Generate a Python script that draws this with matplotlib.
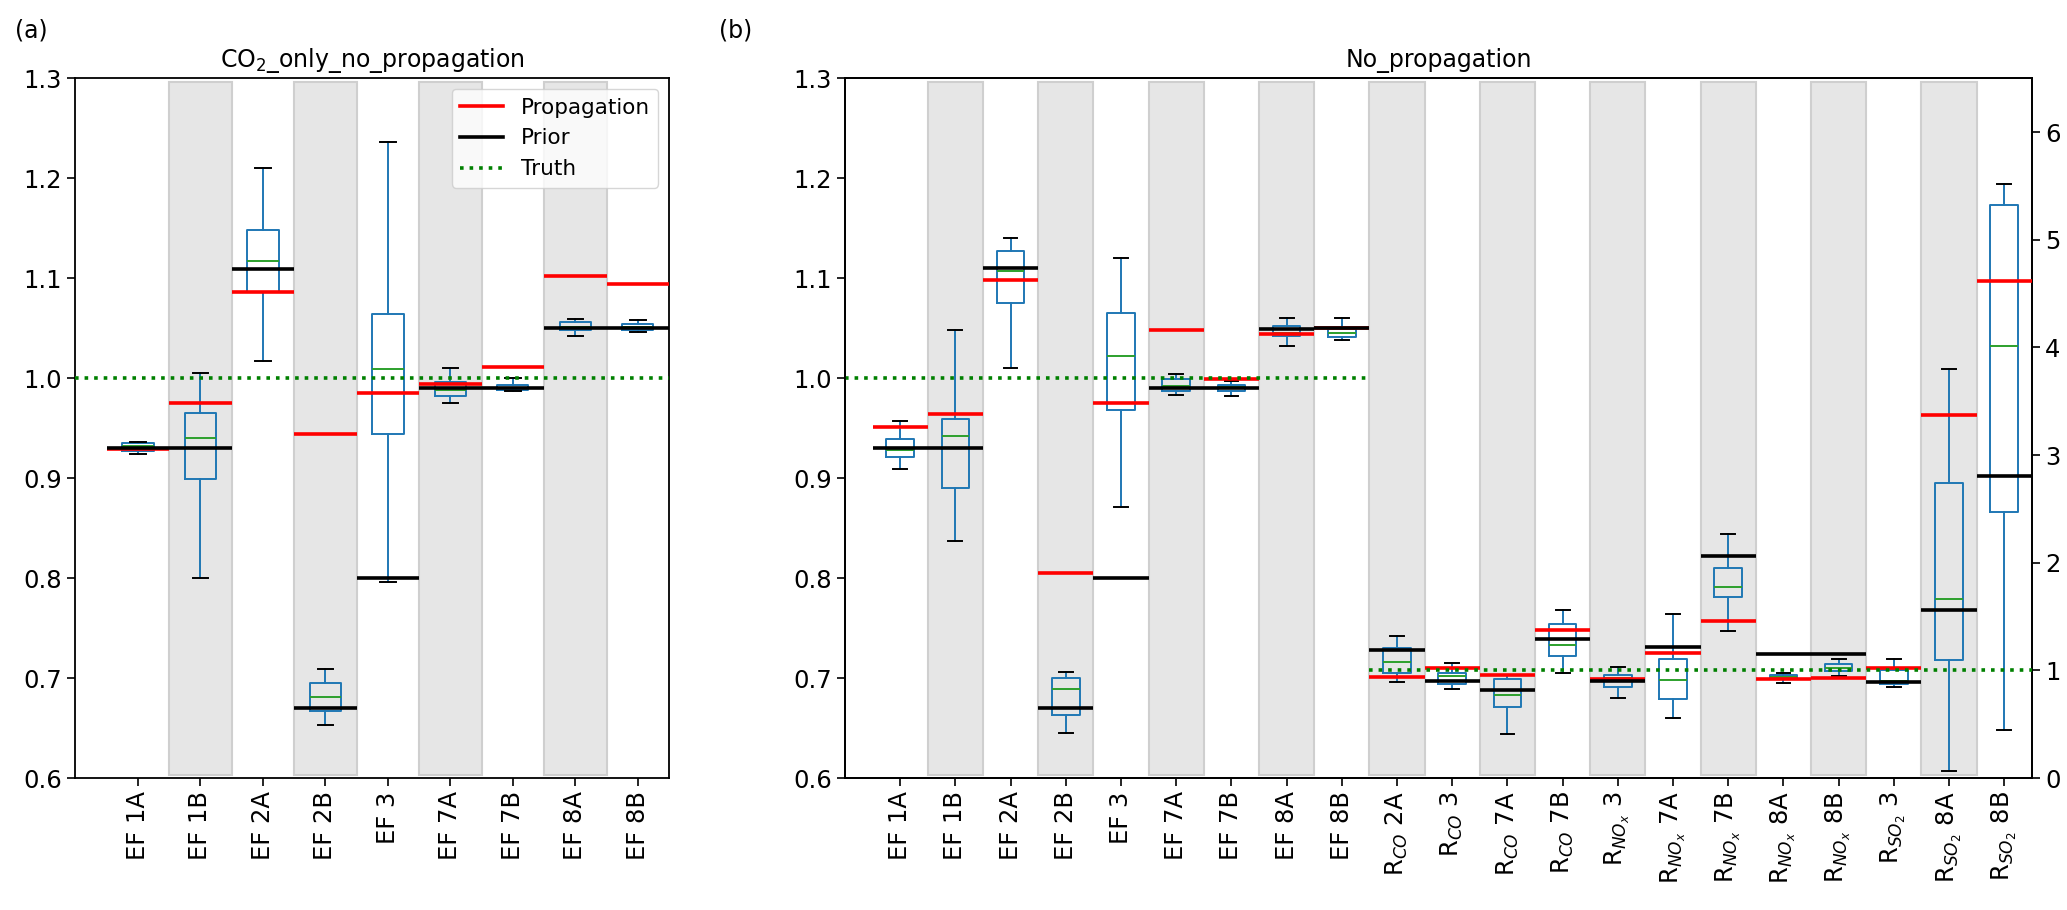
import matplotlib
matplotlib.use("Agg")
import matplotlib.pyplot as plt
from matplotlib.lines import Line2D

# ---------------- data ----------------
cats_a = ['EF 1A', 'EF 1B', 'EF 2A', 'EF 2B', 'EF 3', 'EF 7A', 'EF 7B', 'EF 8A', 'EF 8B']
a_whislo = [0.924, 0.800, 1.017, 0.653, 0.796, 0.975, 0.987, 1.042, 1.046]
a_q1 = [0.927, 0.899, 1.086, 0.667, 0.944, 0.982, 0.988, 1.048, 1.048]
a_med = [0.932, 0.940, 1.117, 0.681, 1.009, 0.988, 0.990, 1.051, 1.051]
a_q3 = [0.935, 0.965, 1.148, 0.695, 1.064, 0.996, 0.993, 1.056, 1.054]
a_whishi = [0.936, 1.005, 1.210, 0.709, 1.236, 1.010, 1.000, 1.059, 1.058]
a_prop = [0.929, 0.975, 1.086, 0.944, 0.985, 0.994, 1.011, 1.102, 1.094]
a_prior = [0.930, 0.930, 1.109, 0.670, 0.800, 0.990, 0.990, 1.050, 1.050]

cats_b_ef = ['EF 1A', 'EF 1B', 'EF 2A', 'EF 2B', 'EF 3', 'EF 7A', 'EF 7B', 'EF 8A', 'EF 8B']
b_whislo = [0.909, 0.837, 1.010, 0.645, 0.871, 0.983, 0.982, 1.032, 1.038]
b_q1 = [0.921, 0.890, 1.075, 0.663, 0.968, 0.987, 0.987, 1.042, 1.041]
b_med = [0.928, 0.942, 1.107, 0.689, 1.022, 0.992, 0.991, 1.045, 1.045]
b_q3 = [0.939, 0.959, 1.127, 0.700, 1.065, 0.999, 0.993, 1.052, 1.049]
b_whishi = [0.957, 1.048, 1.140, 0.706, 1.120, 1.004, 0.997, 1.060, 1.060]
b_prop = [0.951, 0.964, 1.098, 0.805, 0.975, 1.048, 0.999, 1.044, 1.050]
b_prior = [0.930, 0.930, 1.110, 0.670, 0.800, 0.990, 0.990, 1.049, 1.050]

cats_b_r = [r'R$_{CO}$ 2A', r'R$_{CO}$ 3', r'R$_{CO}$ 7A', r'R$_{CO}$ 7B',
            r'R$_{NO_x}$ 3', r'R$_{NO_x}$ 7A', r'R$_{NO_x}$ 7B', r'R$_{NO_x}$ 8A', r'R$_{NO_x}$ 8B',
            r'R$_{SO_2}$ 3', r'R$_{SO_2}$ 8A', r'R$_{SO_2}$ 8B']
r_whislo = [0.890, 0.830, 0.405, 0.972, 0.743, 0.560, 1.363, 0.886, 0.950, 0.848, 0.063, 0.450]
r_q1 = [0.975, 0.873, 0.664, 1.130, 0.848, 0.732, 1.683, 0.918, 0.990, 0.872, 1.100, 2.467]
r_med = [1.078, 0.951, 0.770, 1.232, 0.928, 0.912, 1.779, 0.938, 1.022, 0.904, 1.660, 4.010]
r_q3 = [1.204, 0.980, 0.917, 1.432, 0.956, 1.110, 1.955, 0.958, 1.062, 1.001, 2.744, 5.320]
r_whishi = [1.318, 1.068, 0.960, 1.557, 1.030, 1.522, 2.266, 0.975, 1.105, 1.110, 3.803, 5.517]
r_prop = [0.935, 1.025, 0.957, 1.372, 0.918, 1.161, 1.459, 0.922, 0.930, 1.022, 3.375, 4.616]
r_prior = [1.187, 0.899, 0.815, 1.290, 0.903, 1.215, 2.066, 1.150, 1.150, 0.896, 1.557, 2.805]

truth_ef = 1.0
truth_r = 1.0

# ---------------- style ----------------
FS_TICK = 17.5
FS_TITLE = 17
FS_LEG = 15.5
BOX_C = '#1f77b4'
MED_C = '#2ca02c'
BAND_FC = '#e6e6e6'
BAND_EC = '#cfcfcf'
LW_BOX = 1.4
LW_REF = 2.6

plt.rcParams['font.family'] = ['DejaVu Sans']
plt.rcParams['mathtext.fontset'] = 'dejavusans'


def stats_list(lo, q1, med, q3, hi):
    return [dict(whislo=a, q1=b, med=c, q3=d, whishi=e, fliers=[])
            for a, b, c, d, e in zip(lo, q1, med, q3, hi)]


def draw_boxes(ax, stats, positions):
    ax.bxp(stats, positions=positions, widths=0.5, showfliers=False,
           manage_ticks=False,
           boxprops=dict(color=BOX_C, lw=LW_BOX),
           whiskerprops=dict(color=BOX_C, lw=LW_BOX),
           capprops=dict(color='k', lw=LW_BOX),
           medianprops=dict(color=MED_C, lw=LW_BOX),
           zorder=3)


def draw_refs(ax, positions, prop, prior):
    for p, yv in zip(positions, prop):
        ax.hlines(yv, p - 0.5, p + 0.5, colors='red', lw=LW_REF, zorder=4)
    for p, yv in zip(positions, prior):
        ax.hlines(yv, p - 0.5, p + 0.5, colors='black', lw=LW_REF, zorder=5)


def draw_bands(ax, n):
    for i in range(2, n + 1, 2):
        ax.axvspan(i - 0.5, i + 0.5, ymin=0.005, ymax=0.995,
                   facecolor=BAND_FC, edgecolor=BAND_EC, lw=1.5, zorder=0)


def style_axis(ax):
    ax.tick_params(axis='both', labelsize=FS_TICK, length=6, width=1.2)
    for s in ax.spines.values():
        s.set_linewidth(1.3)


fig = plt.figure(figsize=(20.67, 9.10), dpi=100)

# ---------------- panel (a) ----------------
axa = fig.add_axes([0.0365, 0.145, 0.2872, 0.769])
na = len(cats_a)
pos_a = list(range(1, na + 1))
draw_bands(axa, na)
draw_boxes(axa, stats_list(a_whislo, a_q1, a_med, a_q3, a_whishi), pos_a)
draw_refs(axa, pos_a, a_prop, a_prior)
axa.hlines(truth_ef, 0, na + 0.5, colors='green', linestyles=':', lw=LW_REF, zorder=6)
axa.set_xlim(0, na + 0.5)
axa.set_ylim(0.6, 1.3)
axa.set_yticks([0.6, 0.7, 0.8, 0.9, 1.0, 1.1, 1.2, 1.3])
axa.set_yticklabels(['0.6', '0.7', '0.8', '0.9', '1.0', '1.1', '1.2', '1.3'])
axa.set_xticks(pos_a)
axa.set_xticklabels(cats_a, rotation=90)
style_axis(axa)
axa.set_title(r'CO$_2$_only_no_propagation', fontsize=FS_TITLE, pad=8)
handles = [Line2D([], [], color='red', lw=LW_REF),
           Line2D([], [], color='black', lw=LW_REF),
           Line2D([], [], color='green', lw=LW_REF, ls=':')]
axa.legend(handles, ['Propagation', 'Prior', 'Truth'], loc='upper right',
           fontsize=FS_LEG)

# ---------------- panel (b) ----------------
axb = fig.add_axes([0.4088, 0.145, 0.5742, 0.769])
ax2 = axb.twinx()
ne = len(cats_b_ef)
nr = len(cats_b_r)
ntot = ne + nr
pos_e = list(range(1, ne + 1))
pos_r = list(range(ne + 1, ntot + 1))
draw_bands(axb, ntot)
draw_boxes(axb, stats_list(b_whislo, b_q1, b_med, b_q3, b_whishi), pos_e)
draw_refs(axb, pos_e, b_prop, b_prior)
axb.hlines(truth_ef, 0, ne + 0.5, colors='green', linestyles=':', lw=LW_REF, zorder=6)

draw_boxes(ax2, stats_list(r_whislo, r_q1, r_med, r_q3, r_whishi), pos_r)
draw_refs(ax2, pos_r, r_prop, r_prior)
ax2.hlines(truth_r, ne + 0.5, ntot + 0.5, colors='green', linestyles=':', lw=LW_REF, zorder=6)

axb.set_xlim(0, ntot + 0.5)
axb.set_ylim(0.6, 1.3)
axb.set_yticks([0.6, 0.7, 0.8, 0.9, 1.0, 1.1, 1.2, 1.3])
axb.set_yticklabels(['0.6', '0.7', '0.8', '0.9', '1.0', '1.1', '1.2', '1.3'])
axb.set_xticks(list(range(1, ntot + 1)))
axb.set_xticklabels(cats_b_ef + cats_b_r, rotation=90)
ax2.set_ylim(0, 6.5)
ax2.set_yticks([0, 1, 2, 3, 4, 5, 6])
style_axis(axb)
style_axis(ax2)
axb.set_title('No_propagation', fontsize=FS_TITLE, pad=8)

fig.text(0.0073, 0.967, '(a)', fontsize=FS_TITLE, va='center', ha='left')
fig.text(0.348, 0.967, '(b)', fontsize=FS_TITLE, va='center', ha='left')

fig.savefig('out.png', dpi=100)
